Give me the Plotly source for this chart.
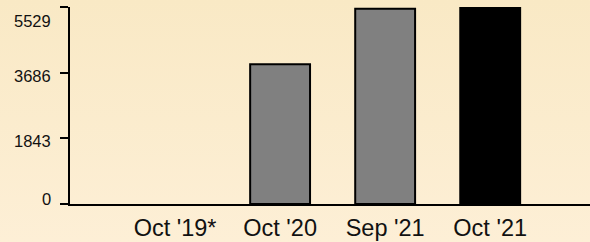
import base64
import plotly.graph_objects as go

categories = ["Oct '19*", "Oct '20", "Sep '21", "Oct '21"]
values = [0, 3930, 5490, 5529]
bar_colors = ["#808080", "#808080", "#808080", "#000000"]
tick_vals = [0, 1843, 3686, 5529]
tick_text = ["0", "1843", "3686", "5529"]
tick_label_shift = [5, -3, -3, -14]

W, H = 590, 242
ML, MR, MT, MB = 70, 0, 7, 38

svg = (
    '<svg xmlns="http://www.w3.org/2000/svg" width="10" height="100" preserveAspectRatio="none">'
    '<defs><linearGradient id="g" x1="0" y1="0" x2="0" y2="1">'
    '<stop offset="0" stop-color="#f9e9c5"/><stop offset="1" stop-color="#fdefd6"/>'
    '</linearGradient></defs><rect width="10" height="100" fill="url(#g)"/></svg>'
)
src = "data:image/svg+xml;base64," + base64.b64encode(svg.encode()).decode()

line_widths = [0 if v == 0 else 2 for v in values]

fig = go.Figure(
    go.Bar(
        x=list(range(len(categories))),
        y=values,
        width=0.57,
        marker=dict(color=bar_colors, line=dict(color="#000000", width=line_widths)),
        cliponaxis=False,
        hoverinfo="skip",
    )
)

pw = W - ML - MR
ph = H - MT - MB
fig.add_layout_image(
    dict(
        source=src,
        xref="paper", yref="paper",
        x=-ML / pw, y=1 + MT / ph,
        sizex=W / pw, sizey=H / ph,
        xanchor="left", yanchor="top",
        sizing="stretch", layer="below",
    )
)

for val, txt, sh in zip(tick_vals, tick_text, tick_label_shift):
    fig.add_annotation(
        x=0, xref="paper", y=val, yref="y",
        text=txt, showarrow=False,
        xanchor="right", yanchor="middle",
        xshift=-17, yshift=sh,
        font=dict(size=16.5, color="#111111", family="Arial, 'Liberation Sans', sans-serif"),
    )

fig.update_layout(
    width=W, height=H,
    margin=dict(l=ML, r=MR, t=MT, b=MB, pad=0, autoexpand=False),
    paper_bgcolor="#fbecce",
    plot_bgcolor="rgba(0,0,0,0)",
    showlegend=False,
    font=dict(family="Arial, 'Liberation Sans', sans-serif", color="#111111"),
    xaxis=dict(
        range=[-1, 3.95],
        tickmode="array",
        tickvals=list(range(len(categories))),
        ticktext=categories,
        showgrid=False,
        zeroline=False,
        showline=True,
        linecolor="#000000",
        linewidth=2,
        ticks="",
        tickfont=dict(size=23.5),
        ticklabelstandoff=2,
        ticklabeloverflow="allow",
        automargin=False,
        fixedrange=True,
    ),
    yaxis=dict(
        range=[0, 5540],
        tickmode="array",
        tickvals=tick_vals,
        showticklabels=False,
        showgrid=False,
        zeroline=False,
        showline=True,
        linecolor="#000000",
        linewidth=2,
        ticks="outside",
        ticklen=8,
        tickwidth=1.5,
        tickcolor="#000000",
        automargin=False,
        fixedrange=True,
    ),
)

fig.write_html(
    "out.html",
    config={"displayModeBar": False},
    post_script="document.body.style.margin='0';document.body.style.overflow='hidden';",
)
